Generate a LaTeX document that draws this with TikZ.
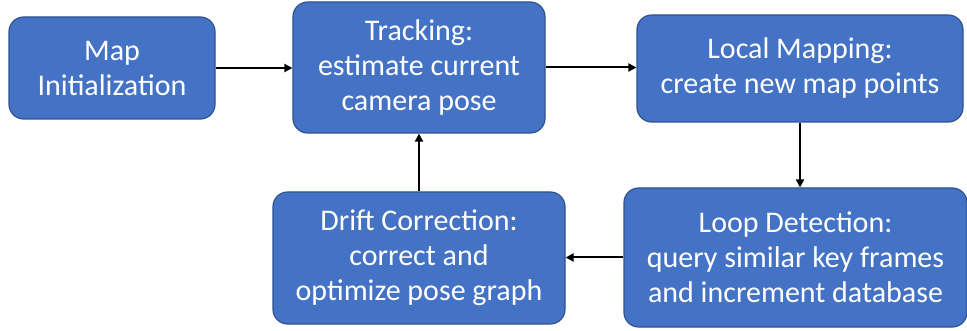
\documentclass[tikz,border=0pt]{standalone}
\usepackage{fontspec}
\setmainfont{Carlito}
\usetikzlibrary{arrows.meta}
\definecolor{boxfill}{HTML}{4472C4}
\definecolor{boxline}{HTML}{2F528F}
\begin{document}
\begin{tikzpicture}[x=0.75pt,y=-0.75pt,
  box/.style={draw=boxline,line width=0.9pt,fill=boxfill,rounded corners=11pt,
    text=white,align=center,inner sep=0pt,
    font=\fontsize{22.5}{26.25}\selectfont},
  conn/.style={line width=1.5pt,-{Triangle[length=6pt,width=6pt]}}]
\useasboundingbox (0,0) rectangle (967,331);
\node[box,minimum width=154.5pt,minimum height=76.5pt] (b1) at (112,68) {Map\\Initialization};
\node[box,minimum width=189pt,minimum height=98.25pt] (b2) at (419,67.5) {Tracking:\\estimate current\\camera pose};
\node[box,minimum width=244.5pt,minimum height=80.25pt] (b3) at (800,68.5) {Local Mapping:\\create new map points};
\node[box,minimum width=257.25pt,minimum height=104.25pt] (b4) at (795.5,257.5) {Loop Detection:\\query similar key frames\\and increment database};
\node[box,minimum width=219pt,minimum height=99pt] (b5) at (419,258) {Drift Correction:\\correct and\\optimize pose graph};
\draw[conn] (b1.east) -- (b1.east -| b2.west);
\draw[conn] (b2.east) -- (b2.east -| b3.west);
\draw[conn] (b3.south) -- (b3.south |- b4.north);
\draw[conn] (b4.west) -- (b4.west -| b5.east);
\draw[conn] (b5.north) -- (b5.north |- b2.south);
\end{tikzpicture}
\end{document}
